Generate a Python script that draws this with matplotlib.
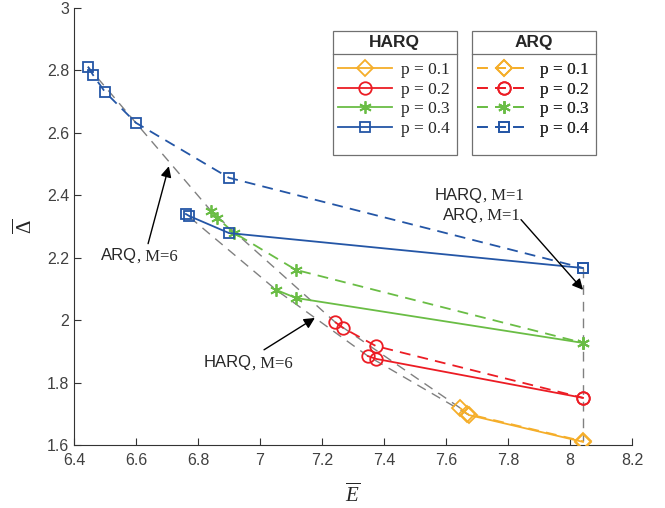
import matplotlib
matplotlib.use('Agg')
import matplotlib.pyplot as plt
from matplotlib.patches import Rectangle
from matplotlib.lines import Line2D

plt.rcParams['mathtext.fontset'] = 'custom'
plt.rcParams['mathtext.rm'] = 'Liberation Serif'
plt.rcParams['mathtext.it'] = 'Liberation Serif:italic'
plt.rcParams['font.family'] = ['Liberation Sans', 'DejaVu Sans']

# ---------------- data ----------------
p_labels = ['p = 0.1', 'p = 0.2', 'p = 0.3', 'p = 0.4']
colors = ['#F5AE2A', '#EC1C24', '#6ABD45', '#2456A6']
markers = ['D', 'o', (6, 2, 0), 's']
msizes = [8, 9, 9, 6.5]

harq_E = [[7.674, 8.042],
          [7.348, 7.374, 8.042],
          [7.052, 7.116, 8.042],
          [6.761, 6.771, 6.900, 8.042]]
harq_D = [[1.696, 1.610],
          [1.885, 1.876, 1.751],
          [2.097, 2.071, 1.927],
          [2.340, 2.334, 2.279, 2.167]]
arq_E = [[7.645, 7.668, 8.042],
         [7.242, 7.268, 7.374, 8.042],
         [6.842, 6.861, 6.916, 7.116, 8.042],
         [6.445, 6.461, 6.500, 6.600, 6.900, 8.042]]
arq_D = [[1.719, 1.700, 1.612],
         [1.994, 1.975, 1.917, 1.751],
         [2.350, 2.328, 2.280, 2.161, 1.927],
         [2.812, 2.786, 2.731, 2.632, 2.456, 2.167]]

xticks = [6.4, 6.6, 6.8, 7, 7.2, 7.4, 7.6, 7.8, 8, 8.2]
xticklabels = ['6.4', '6.6', '6.8', '7', '7.2', '7.4', '7.6', '7.8', '8', '8.2']
yticks = [1.6, 1.8, 2, 2.2, 2.4, 2.6, 2.8, 3]
yticklabels = ['1.6', '1.8', '2', '2.2', '2.4', '2.6', '2.8', '3']

# annotation labels: (scheme part, M part, split x, baseline y)
ann_labels = [('ARQ', ', M=6', 6.603, 2.192),
              ('HARQ', ', M=6', 6.974, 1.849),
              ('HARQ', ', M=1', 7.719, 2.385),
              ('ARQ', ', M=1', 7.706, 2.321)]
ann_arrows = [((6.706, 2.493), (6.639, 2.245)),
              ((7.177, 2.007), (7.013, 1.905)),
              ((8.042, 2.097), (7.842, 2.322))]

# ---------------- figure ----------------
fig = plt.figure(figsize=(6.65, 5.08), dpi=100)
ax = fig.add_axes([74/665, 63/508, 558/665, 437/508])

gray = '#808080'
gdash = (0, (7, 5))
# M=6 connecting lines (first point of each series)
ax.plot([e[0] for e in arq_E], [d[0] for d in arq_D], color=gray, lw=1.0,
        ls=gdash, zorder=1)
ax.plot([e[0] for e in harq_E], [d[0] for d in harq_D], color=gray, lw=1.0,
        ls=gdash, zorder=1)
# M=1 vertical line (last point of each series)
ax.plot([arq_E[3][-1], arq_E[0][-1]], [arq_D[3][-1], arq_D[0][-1]], color=gray,
        lw=1.0, ls=gdash, zorder=1)

h_handles, a_handles = [], []
for i in range(4):
    h, = ax.plot(harq_E[i], harq_D[i], color=colors[i], lw=1.3, ls='-',
                 marker=markers[i], ms=msizes[i], mfc='none', mew=1.3, zorder=3)
    a, = ax.plot(arq_E[i], arq_D[i], color=colors[i], lw=1.3, ls=(0, (6, 4)),
                 marker=markers[i], ms=msizes[i], mfc='none', mew=1.3, zorder=3)
    h_handles.append(h)
    a_handles.append(a)

ax.set_xlim(6.4, 8.2)
ax.set_ylim(1.6, 3.0)
ax.set_xticks(xticks)
ax.set_xticklabels(xticklabels)
ax.set_yticks(yticks)
ax.set_yticklabels(yticklabels)
axc = '#333333'
ax.tick_params(direction='in', length=5, width=0.8, colors=axc, labelsize=11.5,
               labelcolor='#404040')
ax.tick_params(axis='x', pad=6)
for s in ['top', 'right']:
    ax.spines[s].set_visible(False)
for s in ['left', 'bottom']:
    ax.spines[s].set_color(axc)
    ax.spines[s].set_linewidth(0.8)

ax.set_xlabel(r'$\overline{E}$', fontsize=15, labelpad=10, color='#262626')
ax.set_ylabel(r'$\overline{\Delta}$', fontsize=15, labelpad=8, color='#262626')

# ---------------- annotations ----------------
arrow = dict(arrowstyle='-|>', color='black', lw=1.0, mutation_scale=16,
             shrinkA=0, shrinkB=0)
for tip, tail in ann_arrows:
    ax.annotate('', xy=tip, xytext=tail, arrowprops=arrow)
for scheme, mpart, xs, ys in ann_labels:
    ax.text(xs, ys, scheme, fontsize=12, ha='right', va='baseline',
            family='Liberation Sans', color='#262626')
    ax.text(xs, ys, mpart, fontsize=12, ha='left', va='baseline',
            family='Liberation Serif', color='#262626')

# ---------------- legends ----------------
leg_font = {'family': 'Liberation Serif', 'size': 12.5}
box_top, box_bot, div_y = 0.947, 0.664, 0.895
for (x0, x1, title, handles, lx) in [(0.464, 0.686, 'HARQ', h_handles, 0.473),
                                      (0.713, 0.935, 'ARQ', a_handles, 0.722)]:
    rect = Rectangle((x0, box_bot), x1 - x0, box_top - box_bot, transform=ax.transAxes,
                     facecolor='white', edgecolor='#707070', lw=0.9, zorder=5)
    ax.add_patch(rect)
    ax.add_line(Line2D([x0, x1], [div_y, div_y], transform=ax.transAxes,
                       color='#707070', lw=0.9, zorder=6))
    ax.text((x0 + x1) / 2, (box_top + div_y) / 2, title, transform=ax.transAxes,
            ha='center', va='center', fontsize=12.5, fontweight='bold',
            color='#262626', zorder=7)
    leg = ax.legend(handles, p_labels, loc='center left', bbox_to_anchor=(lx, 0.791),
                    frameon=False, prop=leg_font, borderpad=0, borderaxespad=0,
                    handlelength=3.1, handletextpad=0.55, labelspacing=0.2)
    leg.set_zorder(8)
    for t in leg.get_texts():
        t.set_color('#262626')
    ax.add_artist(leg)

fig.savefig('out.png', dpi=100)
